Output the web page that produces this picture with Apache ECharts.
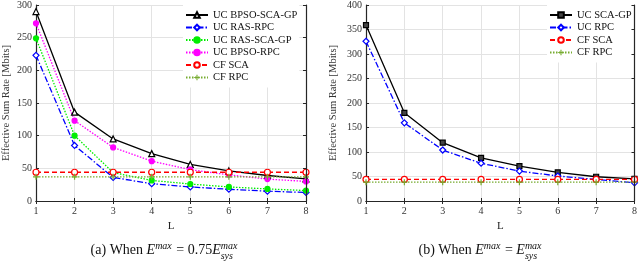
<!DOCTYPE html>
<html><head><meta charset="utf-8">
<script src="https://cdn.jsdelivr.net/npm/echarts@6/dist/echarts.min.js"></script>
<style>html,body{margin:0;padding:0;background:#fff}#c{width:640px;height:261px}</style>
</head><body><div id="c"></div>
<script>
var L = [1, 2, 3, 4, 5, 6, 7, 8];
var xTicks = [1, 2, 3, 4, 5, 6, 7, 8];
// (a) E^max = 0.75 E_sys^max
var aBpsoScaGp = [290, 136, 95, 72.5, 56, 46, 39, 34];
var aRasRpc = [223, 85, 36, 26.5, 21.5, 18, 15, 13];
var aRasScaGp = [249, 100, 43.5, 31.5, 26, 21.5, 18.5, 16];
var aBpsoRpc = [272, 123, 82, 61, 48, 40, 33.5, 30];
var aCfSca = [44, 44, 44, 44, 44, 44, 44, 44];
var aCfRpc = [37, 37, 37, 37, 37, 37, 37, 37];
// (b) E^max = E_sys^max
var bScaGp = [359, 180, 119, 88, 71, 58.5, 49.5, 45];
var bRpc = [326, 159.5, 104, 77, 61, 51, 44, 37];
var bCfSca = [44, 44, 44, 44, 44, 44, 44, 44];
var bCfRpc = [38.5, 38.5, 38.5, 38.5, 38.5, 38.5, 38.5, 38.5];

var FONT = 'Liberation Serif';
var AX = '#262626';
var PLUS = 'path://M4,0L6,0L6,4L10,4L10,6L6,6L6,10L4,10L4,6L0,6L0,4L4,4Z';

function pairs(d) { return d.map(function (v, i) { return [L[i], v]; }); }
function mk(name, data, gi, color, ltype, symbol, size, fill) {
  return {
    type: 'line', name: name, xAxisIndex: gi * 2, yAxisIndex: gi * 2,
    data: pairs(data), symbol: symbol, symbolSize: size, showSymbol: true,
    lineStyle: { color: color, width: 1.3, type: ltype },
    itemStyle: { color: fill, borderColor: color, borderWidth: 1.2 },
    emphasis: { disabled: true }, animation: false, z: 3
  };
}
function xAx(gi, pos) {
  var bottom = pos === 'bottom';
  return {
    type: 'value', gridIndex: gi, position: pos, min: 1, max: 8, z: bottom ? 0 : 6,
    name: bottom ? 'L' : '', nameLocation: 'middle', nameGap: 13,
    nameTextStyle: { fontFamily: FONT, fontSize: 11, color: '#222' },
    axisLine: { show: true, lineStyle: { color: AX, width: 1.2 } },
    axisTick: { show: true, inside: true, length: 3, customValues: xTicks, lineStyle: { color: AX } },
    axisLabel: { show: bottom, customValues: xTicks, margin: 5, fontFamily: FONT, fontSize: 10, color: '#333' },
    splitLine: { show: bottom, lineStyle: { color: '#e3e3e3', width: 1 } }
  };
}
function yAx(gi, pos, max, gap) {
  var left = pos === 'left';
  return {
    type: 'value', gridIndex: gi, position: pos, min: 0, max: max, interval: 50, z: left ? 0 : 6,
    name: left ? 'Effective Sum Rate [Mbits]' : '', nameLocation: 'middle', nameGap: gap,
    nameTextStyle: { fontFamily: FONT, fontSize: 10.5, color: '#333' },
    axisLine: { show: true, lineStyle: { color: AX, width: 1.2 } },
    axisTick: { show: true, inside: true, length: 3, lineStyle: { color: AX } },
    axisLabel: { show: left, margin: 4, fontFamily: FONT, fontSize: 10, color: '#333' },
    splitLine: { show: left, lineStyle: { color: '#e3e3e3', width: 1 } }
  };
}

var series = [
  mk('UC BPSO-SCA-GP', aBpsoScaGp, 0, '#000000', 'solid', 'triangle', 6, '#ffffff'),
  mk('UC RAS-RPC', aRasRpc, 0, '#0000ff', [6, 2, 1.5, 2], 'diamond', 6, '#ffffff'),
  mk('UC RAS-SCA-GP', aRasScaGp, 0, '#00ee00', [1.5, 1.5], 'circle', 5, '#00ee00'),
  mk('UC BPSO-RPC', aBpsoRpc, 0, '#ff00ff', [1.5, 1.5], 'circle', 5, '#ff00ff'),
  mk('CF SCA', aCfSca, 0, '#ff0000', [5, 3], 'circle', 6, '#ffffff'),
  mk('CF RPC', aCfRpc, 0, '#77ac30', [1.5, 1.5], PLUS, 6, '#77ac30'),
  mk('UC SCA-GP', bScaGp, 1, '#000000', 'solid', 'rect', 5, '#444444'),
  mk('UC RPC', bRpc, 1, '#0000ff', [6, 2, 1.5, 2], 'diamond', 6, '#ffffff'),
  mk('CF SCA', bCfSca, 1, '#ff0000', [5, 3], 'circle', 6, '#ffffff'),
  mk('CF RPC', bCfRpc, 1, '#77ac30', [1.5, 1.5], PLUS, 6, '#77ac30')
];
series[5].itemStyle.borderWidth = 0;
series[9].itemStyle.borderWidth = 0;

var legendText = { fontFamily: FONT, fontSize: 10.5, color: '#111', lineHeight: 12 };
var option = {
  backgroundColor: '#fff',
  animation: false,
  grid: [
    { left: 35, right: 334, top: 4, bottom: 60 },
    { left: 366, right: 2, top: 4, bottom: 60 }
  ],
  xAxis: [xAx(0, 'bottom'), xAx(0, 'top'), xAx(1, 'bottom'), xAx(1, 'top')],
  yAxis: [yAx(0, 'left', 300, 24), yAx(0, 'right', 300, 0), yAx(1, 'left', 400, 27), yAx(1, 'right', 400, 0)],
  legend: [
    { data: ['UC BPSO-SCA-GP', 'UC RAS-RPC', 'UC RAS-SCA-GP', 'UC BPSO-RPC', 'CF SCA', 'CF RPC'],
      orient: 'vertical', left: 183, top: 5, padding: [4, 2, 4, 2], itemGap: 0.5, itemWidth: 22, itemHeight: 7,
      backgroundColor: '#fff', textStyle: legendText, selectedMode: false, z: 4 },
    { data: ['UC SCA-GP', 'UC RPC', 'CF SCA', 'CF RPC'],
      orient: 'vertical', left: 547, top: 5, padding: [4, 0, 4, 2], itemGap: 0.5, itemWidth: 22, itemHeight: 7,
      backgroundColor: '#fff', textStyle: legendText, selectedMode: false, z: 4 }
  ],
  series: series
};

var chart = echarts.init(document.getElementById('c'), null, { renderer: 'canvas' });
chart.setOption(option);

// captions with math notation
var MS = 14, SS = 10;
var cv = document.createElement('canvas').getContext('2d');
function fnt(sz, it) { return (it ? 'italic ' : '') + sz + 'px "' + FONT + '"'; }
function w(t, sz, it) { cv.font = fnt(sz, it); return cv.measureText(t).width; }
function caption(cx, base, parts) {
  var total = 0;
  parts.forEach(function (p) {
    p.w = p.stack ? Math.max(w(p.stack[0], SS, true), w(p.stack[1], SS, true)) : w(p.t, p.sz, p.it);
    total += p.w + (p.pad || 0);
  });
  var x = cx - total / 2, els = [];
  parts.forEach(function (p) {
    if (p.stack) {
      els.push({ type: 'text', x: x, y: base - 6, style: { text: p.stack[0], font: fnt(SS, true), fill: '#111', verticalAlign: 'bottom' } });
      els.push({ type: 'text', x: x, y: base + 4, style: { text: p.stack[1], font: fnt(SS, true), fill: '#111', verticalAlign: 'bottom' } });
    } else {
      els.push({ type: 'text', x: x, y: base + (p.dy || 0), style: { text: p.t, font: fnt(p.sz, p.it), fill: '#111', verticalAlign: 'bottom' } });
    }
    x += p.w + (p.pad || 0);
  });
  return els;
}
var capA = caption(164, 257, [
  { t: '(a) When ', sz: MS }, { t: 'E', sz: MS, it: true }, { t: 'max', sz: SS, it: true, dy: -6, pad: 1 },
  { t: ' = 0.75', sz: MS }, { t: 'E', sz: MS, it: true }, { stack: ['max', 'sys'] }
]);
var capB = caption(480, 257, [
  { t: '(b) When ', sz: MS }, { t: 'E', sz: MS, it: true }, { t: 'max', sz: SS, it: true, dy: -6, pad: 1 },
  { t: ' = ', sz: MS }, { t: 'E', sz: MS, it: true }, { stack: ['max', 'sys'] }
]);
chart.setOption({ graphic: capA.concat(capB) });
</script>
</body></html>
